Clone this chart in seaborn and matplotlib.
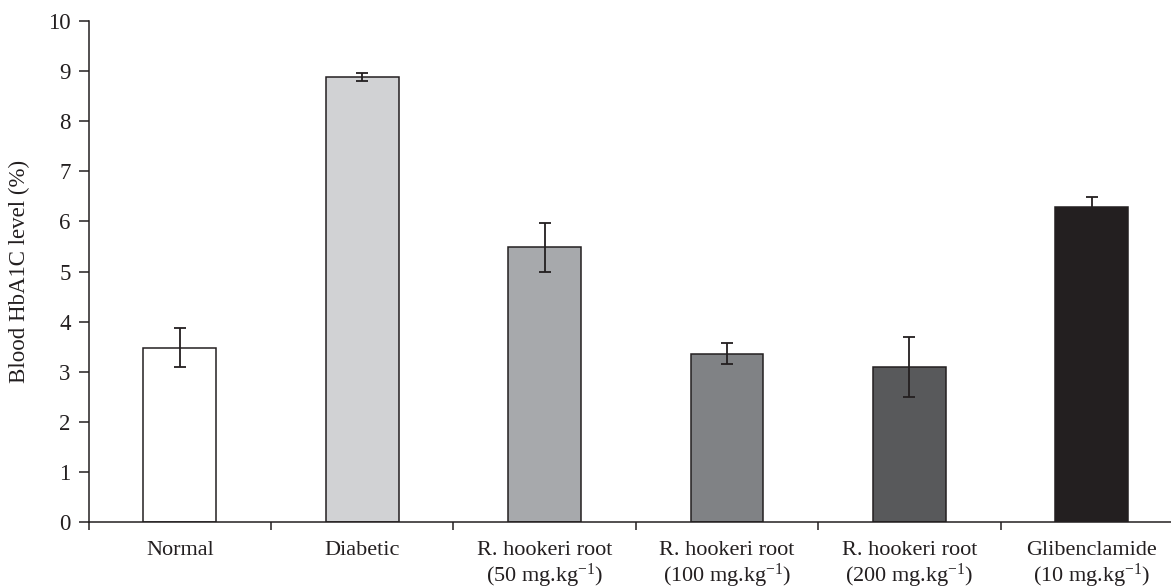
import matplotlib
matplotlib.use("Agg")
import matplotlib.pyplot as plt
import seaborn as sns
import pandas as pd
import numpy as np

categories = ["Normal", "Diabetic", "R. hookeri root\n(50 mg.kg$^{-1}$)",
              "R. hookeri root\n(100 mg.kg$^{-1}$)", "R. hookeri root\n(200 mg.kg$^{-1}$)",
              "Glibenclamide\n(10 mg.kg$^{-1}$)"]
values = [3.48, 8.89, 5.48, 3.36, 3.09, 6.28]
errors = [0.39, 0.08, 0.48, 0.21, 0.60, 0.20]
colors = ["#ffffff", "#d1d2d4", "#a7a9ac", "#808285", "#58595b", "#231f20"]
yticks = list(range(0, 11))

sns.set_style("white")
plt.rcParams["font.family"] = ["Liberation Serif", "DejaVu Serif"]
plt.rcParams["mathtext.fontset"] = "custom"
plt.rcParams["mathtext.rm"] = "Liberation Serif"
plt.rcParams["mathtext.it"] = "Liberation Serif:italic"

ink = "#231f20"
df = pd.DataFrame({"group": categories, "value": values})

fig = plt.figure(figsize=(11.71, 5.88), dpi=100)
ax = fig.add_axes([88.6 / 1171, 1 - 522 / 588, 1 - 88.6 / 1171, (522 - 21) / 588])

sns.barplot(data=df, x="group", y="value", hue="group", palette=colors,
            width=0.4, errorbar=None, legend=False, ax=ax,
            edgecolor=ink, linewidth=1.1, saturation=1)
xpos = np.arange(len(categories))
ax.errorbar(xpos, values, yerr=errors, fmt="none", ecolor=ink,
            elinewidth=1.3, capsize=4, capthick=1.3)

ax.set_yticks(yticks)
ax.set_yticklabels([str(t) for t in yticks], fontsize=16.5, color=ink)

# boundaries as major ticks, labels on minor ticks at centres
ax.set_xticks(np.arange(len(categories) + 1) - 0.5)
ax.set_xticklabels([])
ax.set_xticks(xpos, minor=True)
ax.set_xticklabels(categories, minor=True, fontsize=16, color=ink, linespacing=1.05)
ax.tick_params(axis="x", which="minor", bottom=True, length=0, pad=14)
ax.tick_params(axis="x", which="major", bottom=True, direction="out", length=6, width=1.1, color=ink)
ax.tick_params(axis="y", which="major", left=True, direction="out", length=7, width=1.1, color=ink, pad=6)

ax.set_ylim(0, 10)
ax.set_xlim(-0.5, -0.5 + (1171 - 88.6) / 182.4)

for s in ["top", "right"]:
    ax.spines[s].set_visible(False)
for s in ["left", "bottom"]:
    ax.spines[s].set_color(ink)
    ax.spines[s].set_linewidth(1.1)

ax.set_xlabel("")
ax.set_ylabel("Blood HbA1C level (%)", fontsize=16.5, color=ink, labelpad=13)

fig.savefig("out.png", dpi=100)
